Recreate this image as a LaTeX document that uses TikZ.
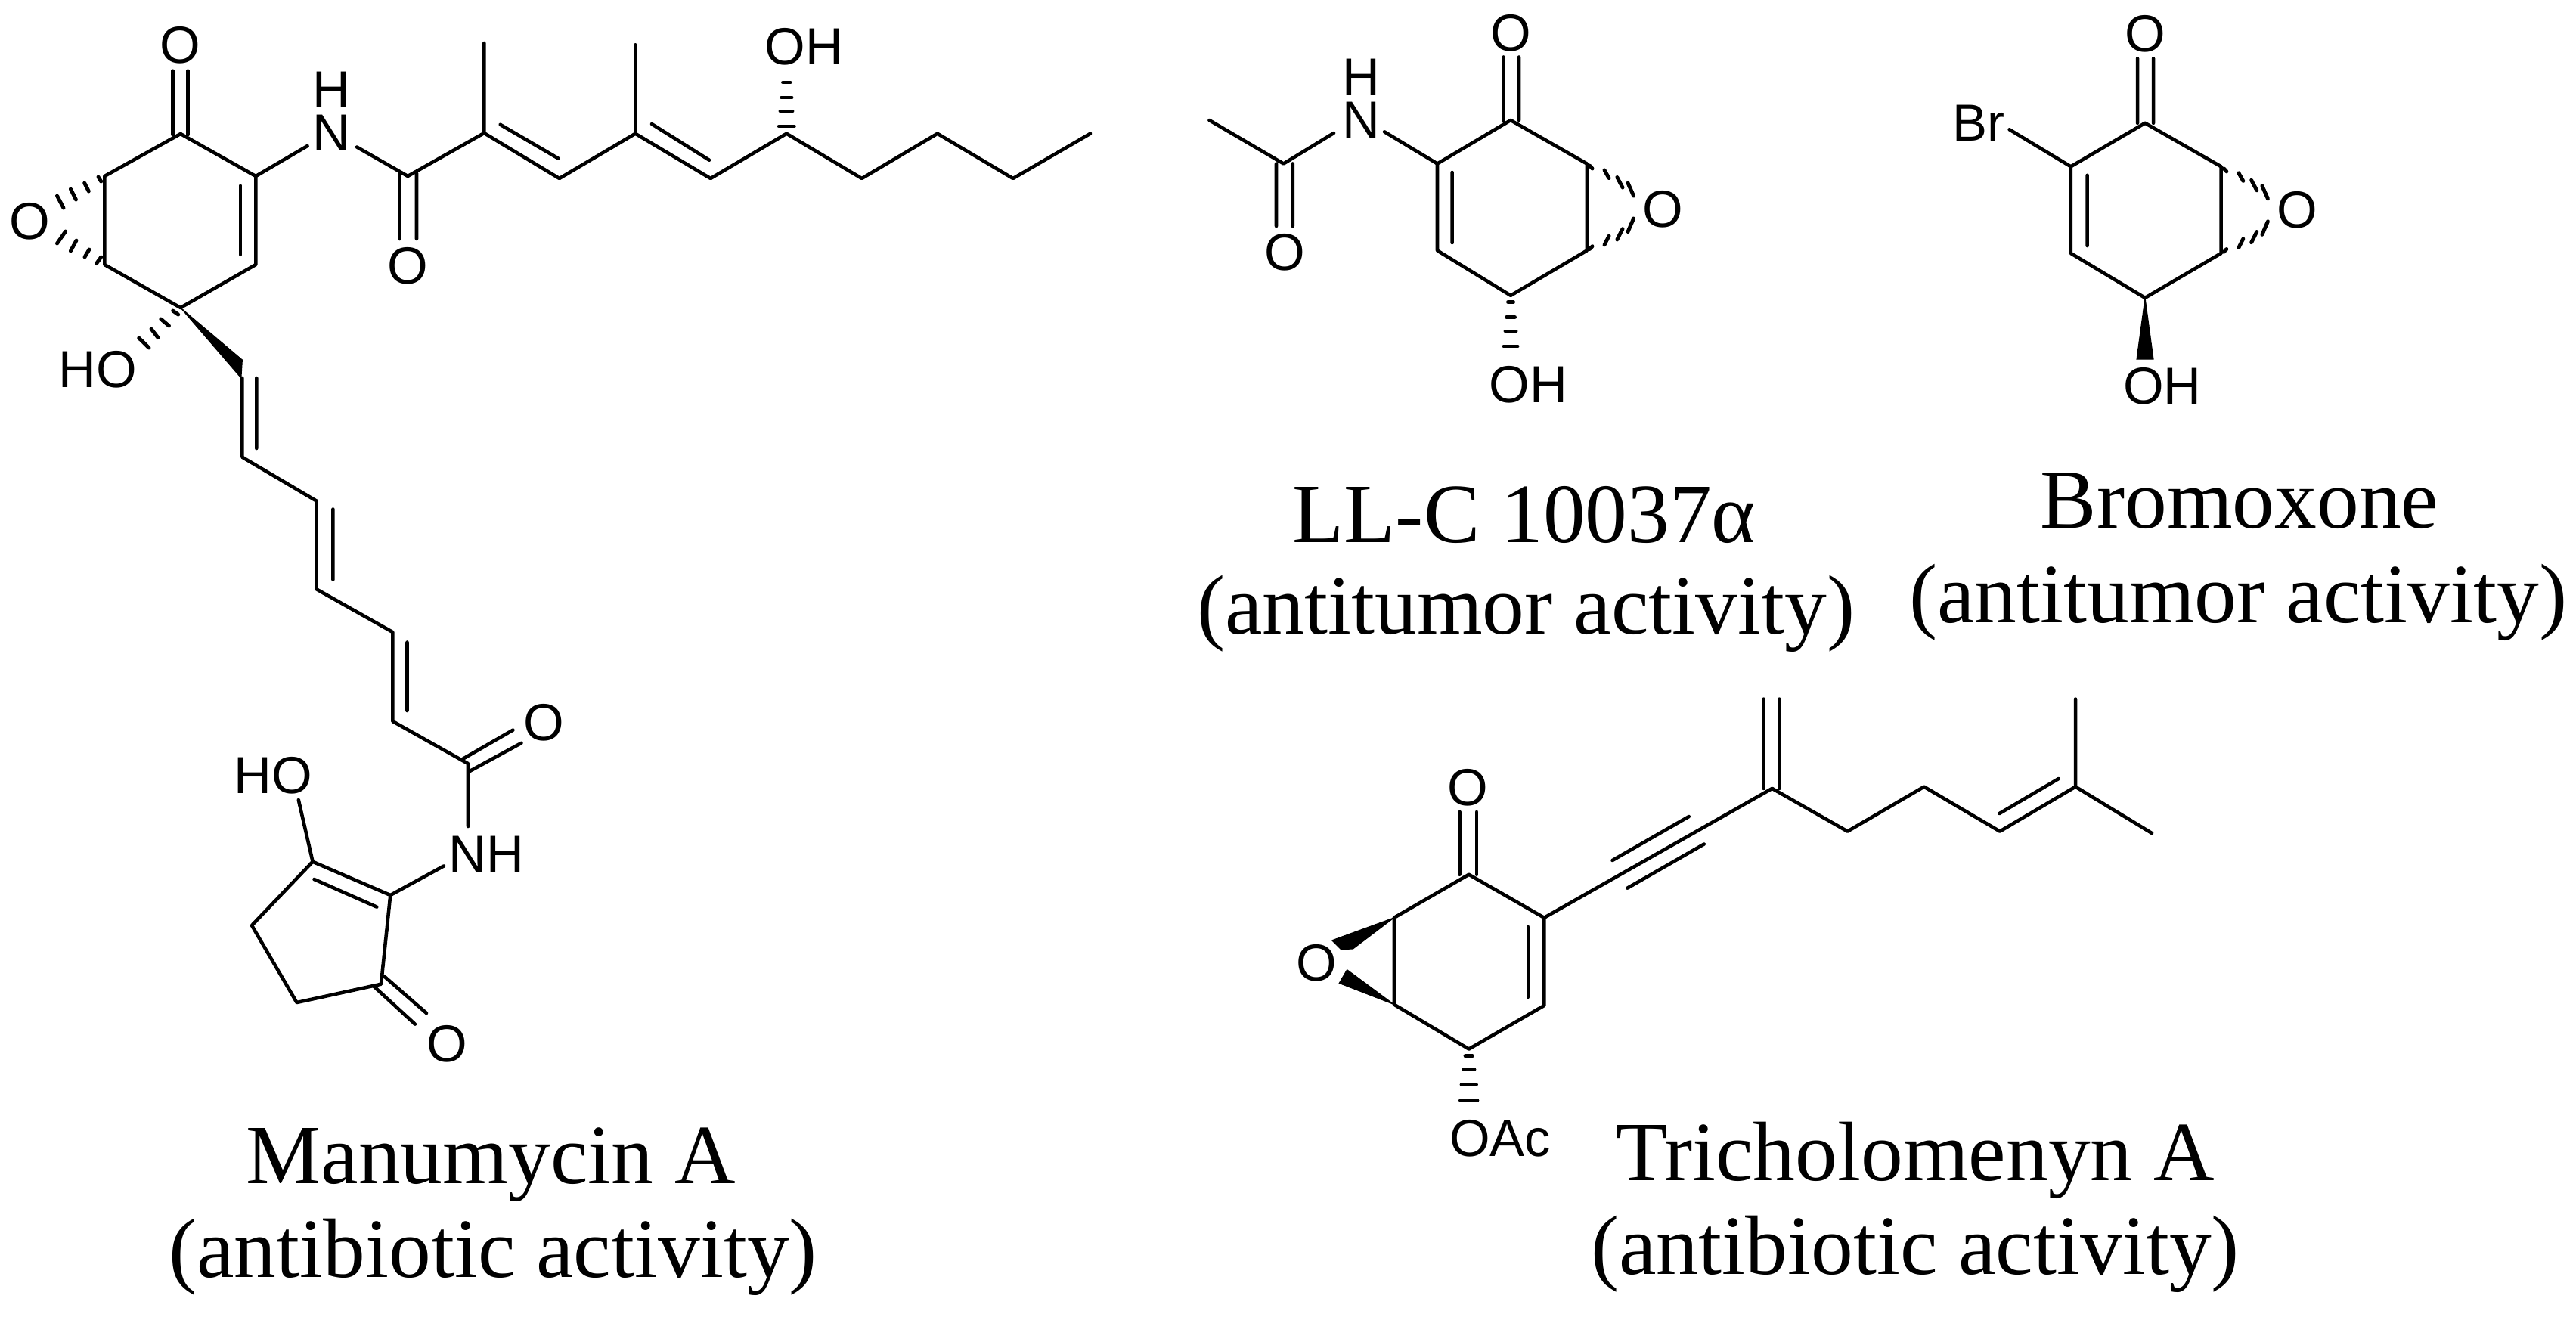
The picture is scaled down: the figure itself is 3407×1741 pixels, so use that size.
\documentclass[tikz,border=0pt]{standalone}
\usepackage{fontspec}
\setmainfont{Liberation Serif}
\newfontfamily\labelfont{Liberation Sans}
\tikzset{
  bond/.style={draw=black,line width=1.3pt,line cap=round,line join=round},
  hashbar/.style={draw=black,line width=1.4pt,line cap=round},
  wedgefill/.style={fill=black,draw=black,line width=0.3pt},
  atomlabel/.style={inner sep=0pt,align=center,font=\labelfont\fontsize{19.6}{16.2}\selectfont},
  captext/.style={inner sep=0pt,anchor=base,font=\fontsize{31.7}{36}\selectfont}
}
\begin{document}
\begin{tikzpicture}[x=0.01cm,y=-0.01cm]
\useasboundingbox (0,0) rectangle (3407,1741);
% ---------- Manumycin A ----------
\foreach \n/\x/\y in {
 a1/238.8/177,a2/138.3/233,a3/138.3/350,a4/238.8/407,a5/338.3/350,a6/338.3/233,
 a1oa/228.6/93.7,a1ob/248.5/93.7,a1ia/228.6/178,a1ib/248.5/178,
 a7/317.9/245.9,a8/317.9/336.8,
 a9/406.6/193,a10/472/194.5,b1/539.3/233,b2/640.3/176,
 b1a/528.6/229,b1b/551/229,b1c/528.6/316,b1d/551/316,
 b3/640.3/57,b4/739.8/236,b5/661.7/164.8,b6/738.3/209.5,
 c1/840.3/176.7,c2/840.3/59.3,c3/939.8/236,c4/862/164,c5/938/211.7,
 c6/1040.3/176.7,c7/1139.8/236,c8/1239.8/176.7,c9/1339.8/236,c10/1442/176.7,
 w1/320.4/476,w2/318.9/500,d1/320.4/500,d2/320.4/604.7,d3/339.3/500,d4/339.3/593,
 d5/418.6/662.6,d6/418.6/779.3,d7/440.4/673.5,d8/440.4/766.6,
 d9/519.3/836,d10/519.3/954,d11/538.5/849.5,d12/538.5/940,
 e1/619/1010,e2/610/1005,e3/678.4/965.6,e4/621.6/1019.8,e5/689.5/982.8,e6/619/1093,
 f1/587/1145.4,f2/516.3/1184,f3/413.6/1139.7,f4/415.5/1163,f5/498.3/1199.6,
 f6/394.8/1058,f7/333/1224,f8/392.5/1326,f9/504/1301.7,
 f10/493.3/1303.6,f11/548.9/1354.6,f12/507.5/1290.8,f13/564/1340}
 {\coordinate (\n) at (\x,\y);}
\draw[bond] (a1)--(a2)--(a3)--(a4)--(a5)--(a6)--(a1);
\draw[bond] (a1oa)--(a1ia) (a1ob)--(a1ib) (a7)--(a8);
\draw[bond] (a6)--(a9) (a10)--(b1)--(b2)--(b4)--(c1)--(c3)--(c6)--(c7)--(c8)--(c9)--(c10);
\draw[bond] (b1a)--(b1c) (b1b)--(b1d) (b2)--(b3) (b5)--(b6) (c1)--(c2) (c4)--(c5);
\fill[wedgefill] (a4)--(w1)--(w2)--cycle;
\draw[bond] (d1)--(d2)--(d5)--(d6)--(d9)--(d10)--(e1)--(e6);
\draw[bond] (d3)--(d4) (d7)--(d8) (d11)--(d12) (e2)--(e3) (e4)--(e5);
\draw[bond] (f1)--(f2)--(f3)--(f7)--(f8)--(f9)--(f2);
\draw[bond] (f4)--(f5) (f3)--(f6) (f10)--(f11) (f12)--(f13);
\foreach \xa/\ya/\xb/\yb in {75.5/259/84/275,93.4/250/100.5/264,111.7/242/117.3/253,130/234/133.7/240,
 75.5/322/86.7/306,93.4/332/101/318,112/340/118/330,127.5/348.6/133.7/340,
 228.6/411/235.7/416,212.8/422/223.5/431,200/435/209/446.6,183.7/447/197/460,
 1030.3/167/1050.3/167,1032/147/1048/147,1033.5/129/1047/129,1035.5/109/1045/109}
 {\draw[hashbar] (\xa,\ya)--(\xb,\yb);}
\node[atomlabel] (oA) at (238.8,59.3) {O};
\node[atomlabel] (oB) at (39.3,293) {O};
\node[atomlabel] (nhA) at (438.8,147.7) {H\\N};
\node[atomlabel] (oC) at (539.3,352) {O};
\node[atomlabel] (ohA) at (1063.5,61.7) {OH};
\node[atomlabel] (hoA) at (129.3,489) {HO};
\node[atomlabel] (oD) at (719.7,956) {O};
\node[atomlabel] (nhB) at (643.5,1130) {NH};
\node[atomlabel] (hoB) at (361,1026) {HO};
\node[atomlabel] (oE) at (591,1381) {O};
\node[captext] (capA) at (649,1565) {Manumycin A};
\node[captext] (capB) at (652,1689) {(antibiotic activity)};
% ---------- LL-C 10037 alpha ----------
\foreach \n/\x/\y in {
 g1/1998/159,g2/2098.8/216.5,g3/2098.8/331.4,g4/1998/390.8,g5/1901/331.4,g6/1901/216.5,
 g7/1988.5/75.5,g8/2009/75.5,g9/1988.5/159,g10/2009/159,g11/1920.6/228,g12/1920.6/321,
 g13/1831/174.3,g14/1764/176,g15/1697.6/216.5,g16/1599.4/159,
 g17/1688/216.5,g18/1688/299,g19/1709.7/216.5,g20/1709.7/299}
 {\coordinate (\n) at (\x,\y);}
\draw[bond] (g1)--(g2)--(g3)--(g4)--(g5)--(g6)--(g1);
\draw[bond] (g7)--(g9) (g8)--(g10) (g11)--(g12) (g6)--(g13) (g14)--(g15)--(g16) (g17)--(g18) (g19)--(g20);
\foreach \xa/\ya/\xb/\yb in {2102.4/219/2106/223,2122/225/2128/235.6,2138.8/234.5/2146/248,2153/242/2160.6/259,
 2102.4/329.5/2106/325.7,2122/323.8/2128/312,2138.8/316.9/2146/302.7,2153/306.5/2160.6/289,
 1994.5/399.6/2001.5/399.6,1992.5/419.5/2003.5/419.5,1991/438/2005/438,1989/458/2007/458}
 {\draw[hashbar] (\xa,\ya)--(\xb,\yb);}
\node[atomlabel] (oF) at (1998,44) {O};
\node[atomlabel] (nhC) at (1800.6,130.7) {H\\N};
\node[atomlabel] (oG) at (1698.8,334) {O};
\node[atomlabel] (oH) at (2199.4,276.6) {O};
\node[atomlabel] (ohB) at (2021.5,508.4) {OH};
\node[captext] (capC) at (2016,717) {LL-C 10037α};
\node[captext] (capD) at (2018,838) {(antitumor activity)};
% ---------- Bromoxone ----------
\foreach \n/\x/\y in {
 h1/2837/162.8,h2/2937.6/220.3,h3/2937.6/335,h4/2837/393.9,h5/2738.8/335,h6/2738.8/220.3,
 h7/2827/77.4,h8/2848/77.4,h9/2827/162.8,h10/2848/162.8,h11/2760.6/231.8,h12/2760.6/325,
 h13/2657.6/171.3,h14/2826/475,h15/2848/475}
 {\coordinate (\n) at (\x,\y);}
\draw[bond] (h1)--(h2)--(h3)--(h4)--(h5)--(h6)--(h1);
\draw[bond] (h7)--(h9) (h8)--(h10) (h11)--(h12) (h6)--(h13);
\fill[wedgefill] (h4)--(h14)--(h15)--cycle;
\foreach \xa/\ya/\xb/\yb in {2941.2/222.8/2944.8/226.8,2960.8/228.8/2966.8/239.4,2977.6/238.3/2984.8/251.8,2991.8/245.8/2999.4/262.8,
 2941.2/333.3/2944.8/329.5,2960.8/327.6/2966.8/315.8,2977.6/320.7/2984.8/306.5,2991.8/310.3/2999.4/292.8}
 {\draw[hashbar] (\xa,\ya)--(\xb,\yb);}
\node[atomlabel] (oI) at (2837,45.2) {O};
\node[atomlabel] (brA) at (2616.5,162.5) {Br};
\node[atomlabel] (oJ) at (3038,277.8) {O};
\node[atomlabel] (ohC) at (2860,510.7) {OH};
\node[captext] (capE) at (2962,698) {Bromoxone};
\node[captext] (capF) at (2960,823) {(antitumor activity)};
% ---------- Tricholomenyn A ----------
\foreach \n/\x/\y in {
 k1/1942.7/1156.7,k2/2042.3/1213.8,k3/2042.3/1330,k4/1942.7/1387.5,k5/1843.8/1328.6,k6/1843.8/1213.8,
 k7/1930.7/1074,k8/1953/1074,k9/1930.7/1156.7,k10/1953/1156.7,k11/2020.8/1225.9,k12/2020.8/1318.8,
 m1/2343.8/1042.9,m2/2132.5/1138,m3/2233.7/1080,m4/2152.4/1174.6,m5/2253.7/1116.5,
 m6/2332.6/924.6,m7/2353.3/924.6,m8/2332.6/1042.9,m9/2353.3/1042.9,
 m10/2443.5/1099.6,m11/2544.7/1040.6,m12/2645/1099.6,m13/2745/1040.6,m14/2846/1102,m15/2745/924.6,
 m16/2644.4/1076,m17/2722.6/1030,
 q1/1761.6/1243.8,q2/1773.6/1255.8,q3/1789.6/1254.9,q4/1781.6/1282.6,q5/1771.2/1300.4}
 {\coordinate (\n) at (\x,\y);}
\draw[bond] (k1)--(k2)--(k3)--(k4)--(k5)--(k6)--(k1);
\draw[bond] (k7)--(k9) (k8)--(k10) (k11)--(k12);
\draw[bond] (k2)--(m1)--(m10)--(m11)--(m12)--(m13)--(m14) (m13)--(m15);
\draw[bond] (m2)--(m3) (m4)--(m5) (m6)--(m8) (m7)--(m9) (m16)--(m17);
\fill[wedgefill] (k6)--(q1)--(q2)--(q3)--cycle;
\fill[wedgefill] (k5)--(q4)--(q5)--cycle;
\foreach \xa/\ya/\xb/\yb in {1938/1396.9/1947.4/1396.9,1935.5/1414.7/1949.9/1414.7,1933/1434.8/1952.4/1434.8,1931.5/1455.4/1953.9/1455.4}
 {\draw[hashbar] (\xa,\ya)--(\xb,\yb);}
\node[atomlabel] (oK) at (1941,1042) {O};
\node[atomlabel] (oL) at (1741.7,1274) {O};
\node[atomlabel] (oacA) at (1984,1506) {OAc};
\node[captext] (capG) at (2533,1561) {Tricholomenyn A};
\node[captext] (capH) at (2533,1685) {(antibiotic activity)};
\end{tikzpicture}
\end{document}
